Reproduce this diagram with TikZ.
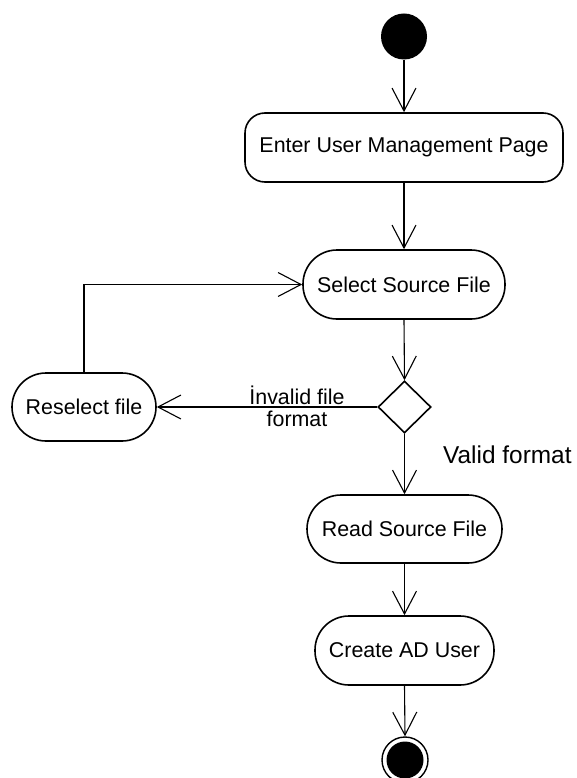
\documentclass[tikz,border=0pt]{standalone}
\usepackage{fontspec}
\setmainfont{Liberation Sans}
\usetikzlibrary{arrows.meta,shapes.geometric}
\begin{document}
\begin{tikzpicture}[x=1pt,y=-1pt,
  every node/.style={font=\fontsize{21.4}{22}\selectfont},
  act/.style={draw,line width=1.6pt,rounded corners=34pt,inner sep=0pt,minimum height=69pt},
  arr/.style={line width=1.1pt,-{Straight Barb[length=23pt,width=24pt,line width=1.1pt]}},
  ln/.style={line width=1.1pt}]
\useasboundingbox (0,0) rectangle (576,778);
\node[circle,fill=black,minimum size=46pt,inner sep=0pt] (start) at (404,36.5) {};
\node[act,rounded corners=20pt,minimum width=318pt] (enter) at (404,147.5) {Enter User Management Page};
\node[act,minimum width=202pt] (sel) at (404,284.5) {Select Source File};
\node[draw,diamond,line width=1.6pt,minimum width=53pt,minimum height=52pt,inner sep=0pt] (dec) at (404.5,407) {};
\node[act,minimum width=144pt,minimum height=68pt] (res) at (84,407) {Reselect file};
\node[act,minimum width=195pt,minimum height=68pt] (read) at (404.5,529) {Read Source File};
\node[act,minimum width=179pt] (create) at (404.5,650.5) {Create AD User};
\node[circle,draw,line width=1.4pt,minimum size=46pt,inner sep=0pt] (end) at (405,760) {};
\node[circle,fill=black,minimum size=37pt,inner sep=0pt] (endin) at (end.center) {};
\draw[arr] (start) -- (enter);
\draw[arr] (enter) -- (sel);
\draw[arr] (sel.south) -- (dec.north);
\draw[arr] (dec.west) -- (res.east);
\draw[arr] (res.north) |- (sel.west);
\draw[arr] (dec.south) -- (read.north);
\draw[arr] (read) -- (create);
\draw[arr] (create.south) -- (end.north);
\node[align=center,inner sep=0pt] (lbl) at (297,406) {İnvalid file\\format};
\node[anchor=base west,inner sep=0pt,font=\fontsize{24.4}{26}\selectfont] (vlbl) at (443,463) {Valid format};
\end{tikzpicture}
\end{document}
